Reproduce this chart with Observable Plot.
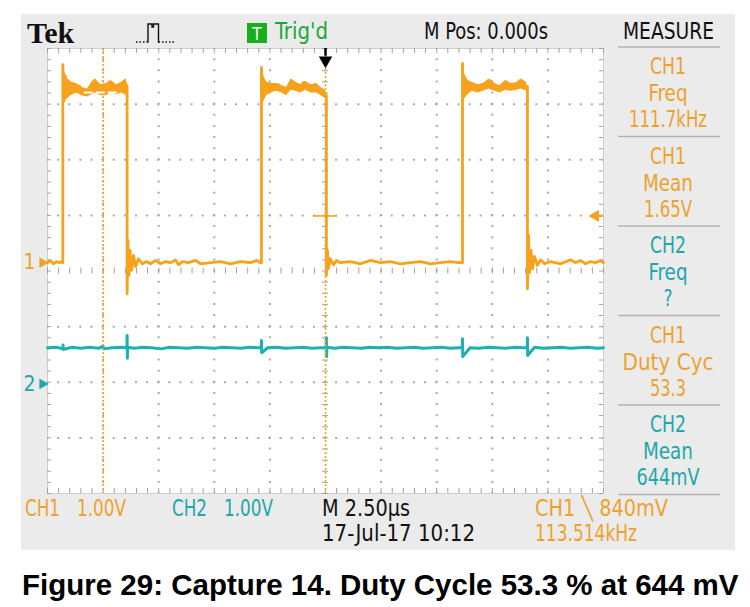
<!DOCTYPE html>
<html><head><meta charset="utf-8">
<script src="https://cdn.jsdelivr.net/npm/d3@7"></script>
<script src="https://cdn.jsdelivr.net/npm/@observablehq/plot@0.6"></script>
<style>
html,body{margin:0;padding:0;background:#fff;}
#wrap{position:relative;width:750px;height:607px;overflow:hidden;}
#panel{position:absolute;left:21px;top:14px;width:714px;height:536px;background:#ebebeb;}
#chart{position:absolute;left:0;top:0;}
#overlay{position:absolute;left:0;top:0;pointer-events:none;}
#caption{position:absolute;left:22px;top:568px;font:bold 29.5px "Liberation Sans",Arial,sans-serif;color:#000;white-space:nowrap;line-height:normal;}
</style></head>
<body>
<div id="wrap">
  <div id="panel"></div>
  <div id="chart"></div>
  <svg id="overlay" width="750" height="550"></svg>
  <div id="caption"></div>
</div>
<script>
// ---------------- DATA ----------------
// CH1 trace: [time (µs), volts]
const ch1Points = [
  [-12.5,0],[-12.37,0.04],[-12.23,-0.02],[-12.1,0.02],[-11.97,0],[-11.83,0.02],[-11.81,0],[-11.81,3.56],
  [-11.76,2.91],[-11.69,3.35],[-11.62,2.99],[-11.56,3.27],[-11.47,3.09],[-11.33,3.20],[-11.2,3.13],[-11.06,3.17],
  [-10.93,3.06],[-10.75,3.09],[-10.61,3.06],[-10.48,3.20],[-10.39,3.27],[-10.3,3.13],[-10.12,3.17],[-9.94,3.09],
  [-9.8,3.20],[-9.67,3.24],[-9.53,3.13],[-9.35,3.17],[-9.17,3.20],[-9.04,3.27],[-8.93,3.17],[-8.92,3.17],[-8.92,-0.56],
  [-8.88,0.40],[-8.84,-0.23],[-8.79,0.22],[-8.72,-0.14],[-8.63,0.13],[-8.54,-0.07],[-8.41,0.07],[-8.23,-0.02],
  [-8.05,0.02],[-7.87,-0.02],[-7.64,0.04],[-7.42,-0.02],[-7.19,0.02],[-6.97,0],[-6.74,0.05],[-6.61,-0.04],[-6.43,0.02],
  [-6.16,0],[-5.85,0.04],[-5.62,-0.02],[-5.17,0],[-4.72,0.02],[-4.27,-0.02],[-3.82,0.02],[-3.37,0],[-3.1,0.04],[-2.92,0],
  [-2.88,0],[-2.88,3.51],
  [-2.83,2.95],[-2.77,3.27],[-2.7,3.06],[-2.61,3.20],[-2.47,3.13],[-2.29,3.18],[-2.11,3.20],[-1.93,3.13],[-1.8,3.08],
  [-1.66,3.17],[-1.53,3.27],[-1.39,3.20],[-1.26,3.13],[-1.12,3.17],[-0.99,3.24],[-0.85,3.20],[-0.72,3.13],[-0.58,3.17],
  [-0.45,3.20],[-0.31,3.13],[-0.18,3.09],[-0.04,3.06],[0.02,3.00],[0.04,3.00],[0.04,-0.23],
  [0.09,0.22],[0.13,-0.11],[0.22,0.07],[0.36,-0.04],[0.49,0.04],
  [0.67,0],[1.12,0.02],[1.57,-0.02],[2.02,0.04],[2.47,0],[2.92,0.02],[3.37,-0.02],[3.82,0],[4.27,0.02],[4.72,-0.02],
  [5.17,0],[5.62,0.02],[5.98,0],[6.12,0],[6.16,0],[6.16,3.58],
  [6.21,2.99],[6.27,3.31],[6.34,3.09],[6.43,3.24],[6.56,3.17],[6.74,3.20],[6.92,3.13],[7.1,3.17],[7.28,3.24],[7.42,3.27],
  [7.6,3.17],[7.78,3.13],[7.96,3.20],[8.09,3.24],[8.27,3.17],[8.45,3.20],[8.63,3.17],[8.77,3.27],[8.9,3.20],[9.06,3.17],
  [9.08,3.17],[9.08,-0.47],
  [9.13,0.49],[9.17,-0.18],[9.24,0.22],[9.31,-0.11],[9.4,0.11],[9.53,-0.05],[9.67,0.05],[9.85,-0.02],
  [10.12,0.02],[10.57,-0.02],[11.02,0.05],[11.24,0],[11.47,0.04],[11.69,-0.02],[11.92,0.02],[12.14,0],[12.37,0.04],[12.5,0]
];
// CH1 noise envelope on the high level: [time (µs), low V, high V, pulse]
const ch1Band = [
  [-11.78,2.85,3.45,1],[-11.7,2.9,3.4,1],[-11.6,2.95,3.3,1],[-11.45,3.0,3.25,1],[-11.2,3.05,3.22,1],[-10.95,3.0,3.15,1],
  [-10.7,2.98,3.12,1],[-10.5,3.02,3.25,1],[-10.35,3.05,3.3,1],[-10.1,3.0,3.2,1],[-9.85,3.0,3.22,1],[-9.65,3.05,3.28,1],
  [-9.4,3.02,3.2,1],[-9.15,3.05,3.25,1],[-8.95,3.0,3.3,1],
  [-2.85,2.85,3.45,2],[-2.77,2.9,3.35,2],[-2.65,3.0,3.25,2],[-2.45,3.05,3.22,2],[-2.2,3.08,3.22,2],[-1.95,3.05,3.18,2],
  [-1.75,3.0,3.15,2],[-1.55,3.1,3.3,2],[-1.35,3.08,3.25,2],[-1.1,3.05,3.2,2],[-0.9,3.1,3.26,2],[-0.65,3.05,3.2,2],
  [-0.4,3.05,3.22,2],[-0.2,3.0,3.15,2],[0.0,2.95,3.1,2],
  [6.18,2.85,3.5,3],[6.27,2.95,3.38,3],[6.4,3.02,3.28,3],[6.6,3.08,3.24,3],[6.85,3.05,3.2,3],[7.1,3.08,3.22,3],
  [7.35,3.12,3.3,3],[7.6,3.08,3.22,3],[7.85,3.05,3.18,3],[8.1,3.1,3.28,3],[8.35,3.08,3.22,3],[8.6,3.1,3.24,3],
  [8.8,3.12,3.3,3],[9.05,3.08,3.24,3]
];
// CH2 trace: [time (µs), volts]
const ch2Points = [
  [-12.5,0.65],[-12.1,0.66],[-11.81,0.63],[-11.8,0.70],[-11.79,0.62],[-11.4,0.66],[-11.0,0.64],[-10.6,0.66],[-10.2,0.64],
  [-10.0,0.68],[-9.99,0.63],[-9.6,0.65],[-9.2,0.66],[-8.93,0.65],[-8.92,0.87],[-8.91,0.46],[-8.9,0.66],[-8.6,0.64],
  [-8.2,0.66],[-7.8,0.65],[-7.4,0.63],[-7.0,0.66],[-6.6,0.65],[-6.2,0.64],[-5.8,0.66],[-5.4,0.65],[-5.0,0.64],[-4.6,0.66],
  [-4.2,0.65],[-3.8,0.64],[-3.4,0.66],[-3.0,0.65],[-2.89,0.65],[-2.88,0.78],[-2.87,0.56],[-2.6,0.65],[-2.2,0.66],
  [-1.8,0.64],[-1.4,0.65],[-1.0,0.66],[-0.6,0.64],[-0.2,0.65],[0.03,0.65],[0.04,0.83],[0.05,0.49],[0.06,0.66],[0.4,0.64],
  [0.8,0.66],[1.2,0.65],[1.6,0.64],[2.0,0.66],[2.4,0.65],[2.8,0.66],[3.2,0.64],[3.6,0.65],[4.0,0.66],[4.4,0.64],[4.8,0.65],
  [5.2,0.66],[5.6,0.64],[6.0,0.65],[6.15,0.65],[6.16,0.81],[6.17,0.49],[6.5,0.65],[6.9,0.64],[7.3,0.66],[7.7,0.65],
  [8.1,0.64],[8.5,0.66],[8.9,0.65],[9.07,0.65],[9.08,0.83],[9.09,0.51],[9.4,0.66],[9.8,0.64],[10.2,0.65],[10.6,0.66],
  [11.0,0.64],[11.4,0.65],[11.8,0.66],[12.2,0.64],[12.5,0.65]
];
const majorT = [-10, -7.5, -5, -2.5, 2.5, 5, 7.5, 10];   // µs, 2.50 µs/div
const majorDiv = [-3, -2, -1, 1, 2, 3];                 // vertical divisions
const minorT = d3.range(-12.5, 12.51, 0.5);
const minorDiv = d3.range(-4, 4.01, 0.2);
const cursorT = [-10, 0];
const ch1Offset = 0.15;     // CH1 ground marker, divisions
const ch2Offset = -2.03;    // CH2 ground marker, divisions
const trigLevel = 0.84;     // V (CH1)
const cursorLevel = 3.06;   // V (CH1)

const headerTexts = ["Trig'd", "M Pos: 0.000s", "MEASURE"];
const measureGroups = [
  ["CH1", "Freq", "111.7kHz"],
  ["CH1", "Mean", "1.65V"],
  ["CH2", "Freq", "?"],
  ["CH1", "Duty Cyc", "53.3"],
  ["CH2", "Mean", "644mV"]
];
const measureChannel = ["CH1", "CH1", "CH2", "CH1", "CH2"];
const statusTexts = ["CH1", "1.00V", "CH2", "1.00V", "M 2.50µs", "17-Jul-17 10:12", "CH1 \u2572 840mV", "113.514kHz"];
const captionText = "Figure 29: Capture 14. Duty Cycle 53.3 % at 644 mV";

// ---------------- STYLE ----------------
const ORANGE = "#f7a21c", ORANGE_TXT = "#eea22c", TEAL = "#1cb2b4", TEAL_TXT = "#20a7ab";
const GREEN = "#1aa83a", TICK = "#a0a0a0", DOT = "#a9a9a9";
const FONT = '"DejaVu Sans Condensed","DejaVu Sans",sans-serif';

// ---------------- PLOT ----------------
const chart = Plot.plot({
  width: 750, height: 550,
  marginLeft: 47, marginRight: 147, marginTop: 48, marginBottom: 57,
  x: {domain: [-12.5, 12.5], axis: null},
  y: {domain: [-4, 4], axis: null},
  style: {background: "transparent", overflow: "visible"},
  marks: [
    Plot.frame({fill: "white", stroke: "#cfcfcf"}),
    Plot.ruleX(majorT, {stroke: DOT, strokeWidth: 2, strokeDasharray: "2,9.125", strokeDashoffset: 1}),
    Plot.ruleY(majorDiv, {stroke: DOT, strokeWidth: 2, strokeDasharray: "2,9.12", strokeDashoffset: 1}),
    Plot.ruleX(minorT, {y1: -0.055, y2: 0.055, stroke: TICK}),
    Plot.ruleX(minorT, {y1: 4, y2: 3.91, stroke: TICK}),
    Plot.ruleX(minorT, {y1: -4, y2: -3.91, stroke: TICK}),
    Plot.ruleY(minorDiv, {x1: -0.135, x2: 0.135, stroke: TICK}),
    Plot.ruleY(minorDiv, {x1: -12.5, x2: -12.32, stroke: TICK}),
    Plot.ruleY(minorDiv, {x1: 12.5, x2: 12.32, stroke: TICK}),
    Plot.line(ch2Points, {x: d => d[0], y: d => d[1] + ch2Offset, stroke: TEAL, strokeWidth: 3}),
    Plot.areaY(ch1Band, {x: d => d[0], y1: d => d[1] + ch1Offset, y2: d => d[2] + ch1Offset, z: d => d[3], fill: ORANGE}),
    Plot.line(ch1Points, {x: d => d[0], y: d => d[1] + ch1Offset, stroke: ORANGE, strokeWidth: 2.8}),
    Plot.ruleX(cursorT, {stroke: ORANGE, strokeWidth: 1.6, strokeDasharray: "2,2"}),
    // trigger point marker
    Plot.ruleY([trigLevel + ch1Offset], {x1: -0.54, x2: 0.54, stroke: ORANGE, strokeWidth: 1.6}),
    // cursor marker on first pulse
    Plot.ruleY([cursorLevel + ch1Offset], {x1: -10.85, x2: -9.3, stroke: "#fff", strokeWidth: 2, strokeDasharray: "9,3"}),
    // trigger level arrow (right)
    Plot.dot([trigLevel + ch1Offset], {x: 12.5, y: d => d, dx: -8, symbol: "triangle", rotate: -90, r: 4.5, fill: ORANGE, stroke: "none"}),
    Plot.ruleY([trigLevel + ch1Offset], {x1: 12.2, x2: 12.5, stroke: ORANGE, strokeWidth: 2}),
    // ground markers (left)
    Plot.dot([ch1Offset], {x: -12.5, y: d => d, dx: -5, symbol: "triangle", rotate: 90, r: 4, fill: ORANGE_TXT, stroke: "none"}),
    Plot.text([ch1Offset], {x: -12.5, y: d => d, dx: -18, text: () => "1", fill: ORANGE_TXT, fontSize: 21, fontFamily: FONT}),
    Plot.dot([ch2Offset], {x: -12.5, y: d => d, dx: -5, symbol: "triangle", rotate: 90, r: 4, fill: TEAL_TXT, stroke: "none"}),
    Plot.text([ch2Offset], {x: -12.5, y: d => d, dx: -18, text: () => "2", fill: TEAL_TXT, fontSize: 21, fontFamily: FONT}),
    // trigger position arrow (top)
    Plot.ruleX([0], {y1: 4, y2: 3.86, stroke: "#000", strokeWidth: 2.5}),
    Plot.dot([0], {x: d => d, y: 4, dy: 12, symbol: "triangle", rotate: 180, r: 5, fill: "#000", stroke: "none"})
  ]
});
document.getElementById("chart").append(chart);

// ---------------- TEXT OVERLAY ----------------
const ov = d3.select("#overlay");
function txt(x, y, s, fill, len, anchor = "start", size = 23) {
  const t = ov.append("text").attr("x", x).attr("y", y).attr("fill", fill)
    .attr("font-family", FONT).attr("font-size", size).attr("text-anchor", anchor).text(s);
  if (len) t.attr("textLength", len).attr("lengthAdjust", "spacingAndGlyphs");
  return t;
}
// header
ov.append("text").attr("x", 27).attr("y", 43).attr("font-family", '"Liberation Serif","Times New Roman",serif')
  .attr("font-weight", "bold").attr("font-size", 30).attr("fill", "#111").text("Tek");
ov.append("path").attr("d", "M136,42h1.5m2,0h1.5m2,0h1.5m2,0h1.5V24h4v3h1.5v-3h5V42h1.5m2,0h1.5m2,0h1.5m2,0h1.5m2,0h1.5")
  .attr("fill", "none").attr("stroke", "#111").attr("stroke-width", 1.4);
ov.append("rect").attr("x", 247).attr("y", 23).attr("width", 20).attr("height", 20).attr("fill", "#17b01c");
ov.append("text").attr("x", 257).attr("y", 40).attr("text-anchor", "middle").attr("font-family", FONT)
  .attr("font-size", 17).attr("fill", "#fff").text("T");
txt(275, 39, headerTexts[0], GREEN, 53);
txt(424, 39, headerTexts[1], "#111", 124);
txt(623, 39, headerTexts[2], "#111", 91);
// measure panel
const measureWidths = {"CH1": 36, "CH2": 36, "Freq": 39, "Mean": 50, "111.7kHz": 78, "1.65V": 48, "?": 9, "Duty Cyc": 91, "53.3": 36, "644mV": 63};
for (let i = 0; i <= 5; i++) {
  ov.append("line").attr("x1", 618).attr("x2", 720).attr("y1", 47 + 89.5 * i).attr("y2", 47 + 89.5 * i)
    .attr("stroke", "#b3b3b3").attr("stroke-width", 1.5);
}
measureGroups.forEach((g, i) => {
  const c = measureChannel[i] === "CH1" ? ORANGE_TXT : TEAL_TXT;
  [0, 27, 53].forEach((dy, j) => txt(668, 74 + 89.5 * i + dy, g[j], c, measureWidths[g[j]], "middle"));
});
// status bar
txt(25, 516, statusTexts[0], ORANGE_TXT, 35);
txt(77, 516, statusTexts[1], ORANGE_TXT, 49);
txt(172, 516, statusTexts[2], TEAL_TXT, 35);
txt(224, 516, statusTexts[3], TEAL_TXT, 49);
txt(322, 516, statusTexts[4], "#111", 88);
txt(322, 541, statusTexts[5], "#111", 153);
txt(535, 516, statusTexts[6], ORANGE_TXT, 133);
txt(535, 541, statusTexts[7], ORANGE_TXT, 102);
// caption
document.getElementById("caption").textContent = captionText;
</script>
</body></html>
